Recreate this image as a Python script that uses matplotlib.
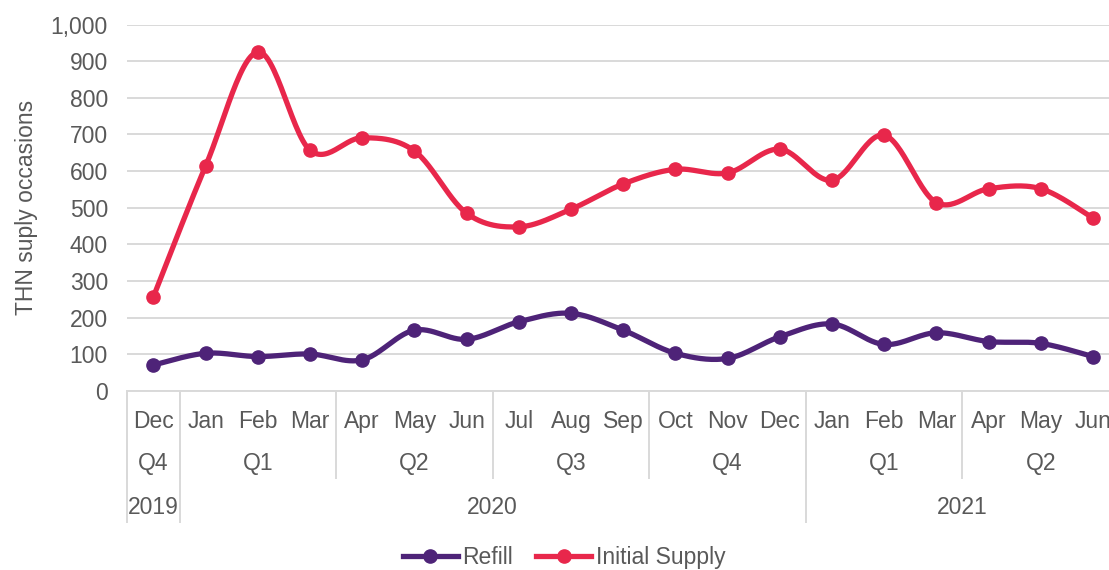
import numpy as np
import matplotlib.pyplot as plt
from matplotlib.lines import Line2D

plt.rcParams["font.family"] = ["Liberation Sans", "DejaVu Sans"]

# Data (Dec 2019 .. Jun 2021)
months = ["Dec", "Jan", "Feb", "Mar", "Apr", "May", "Jun", "Jul", "Aug", "Sep",
          "Oct", "Nov", "Dec", "Jan", "Feb", "Mar", "Apr", "May", "Jun"]
quarters = ["Q4", "Q1", "Q2", "Q3", "Q4", "Q1", "Q2"]
quarter_sizes = [1, 3, 3, 3, 3, 3, 3]
years = ["2019", "2020", "2021"]
year_sizes = [1, 12, 6]

refill = [71, 103, 94, 101, 85, 166, 141, 189, 212, 166,
          103, 89, 148, 183, 127, 159, 135, 130, 94]
initial_supply = [257, 614, 925, 657, 691, 655, 485, 448, 496, 565,
                  605, 595, 660, 575, 698, 514, 552, 552, 472]

RED = "#E8274B"
PURPLE = "#4E2378"
TEXT = "#595959"
GRID = "#D9D9D9"
FS = 16.5


def smooth(y, n=30):
    """Catmull-Rom style bezier smoothing, similar to Excel's smoothed line"""
    y = np.asarray(y, dtype=float)
    x = np.arange(len(y), dtype=float)
    pts = np.column_stack([x, y])
    out = []
    for i in range(len(pts) - 1):
        p0 = pts[max(i - 1, 0)]
        p1 = pts[i]
        p2 = pts[i + 1]
        p3 = pts[min(i + 2, len(pts) - 1)]
        c1 = p1 + (p2 - p0) / 6.0
        c2 = p2 - (p3 - p1) / 6.0
        t = np.linspace(0, 1, n)[:, None]
        seg = ((1 - t) ** 3) * p1 + 3 * ((1 - t) ** 2) * t * c1 \
            + 3 * (1 - t) * t ** 2 * c2 + t ** 3 * p2
        out.append(seg if i == 0 else seg[1:])
    seg = np.vstack(out)
    return seg[:, 0], seg[:, 1]


fig = plt.figure(figsize=(11.09, 5.70), dpi=100)
ax = fig.add_axes([0.1148, 0.314, 0.8943, 0.643])

x = np.arange(len(months))
for vals, col in [(refill, PURPLE), (initial_supply, RED)]:
    sx, sy = smooth(vals)
    ax.plot(sx, sy, color=col, lw=3.8, solid_capstyle="round", zorder=3)
    ax.plot(x, vals, "o", color=col, ms=9.5, zorder=4)

ax.set_xlim(-0.5, len(months) - 0.5)
ax.set_ylim(0, 1000)
ax.set_yticks(np.arange(0, 1001, 100))
ax.set_yticklabels([f"{v:,}" for v in range(0, 1001, 100)])
ax.set_xticks([])
ax.tick_params(axis="y", length=0, pad=14, labelsize=FS, labelcolor=TEXT)
ax.yaxis.grid(True, color=GRID, lw=1.4)
ax.set_axisbelow(True)
for s in ["top", "right", "left"]:
    ax.spines[s].set_visible(False)
ax.spines["bottom"].set_color(GRID)
ax.spines["bottom"].set_linewidth(1.4)
ax.set_ylabel("THN suply occasions", fontsize=FS, color=TEXT, labelpad=9)

# multi-level category axis
tr = ax.get_xaxis_transform()
y_month, y_q, y_year = -0.083, -0.198, -0.318
q_depth, y_depth = -0.237, -0.357

for i, m in enumerate(months):
    ax.text(i, y_month, m, transform=tr, ha="center", va="center",
            fontsize=FS, color=TEXT, clip_on=False)

start = 0
for q, n in zip(quarters, quarter_sizes):
    ax.text(start + (n - 1) / 2, y_q, q, transform=tr, ha="center",
            va="center", fontsize=FS, color=TEXT, clip_on=False)
    ax.plot([start - 0.5, start - 0.5], [0, q_depth], transform=tr,
            color=GRID, lw=1.4, clip_on=False)
    start += n

start = 0
for yr, n in zip(years, year_sizes):
    ax.text(start + (n - 1) / 2, y_year, yr, transform=tr, ha="center",
            va="center", fontsize=FS, color=TEXT, clip_on=False)
    ax.plot([start - 0.5, start - 0.5], [0, y_depth], transform=tr,
            color=GRID, lw=1.4, clip_on=False)
    start += n
ax.plot([start - 0.5, start - 0.5], [0, y_depth], transform=tr,
        color=GRID, lw=1.4, clip_on=False)

handles = [
    Line2D([], [], color=PURPLE, lw=3.8, marker="o", ms=9.5),
    Line2D([], [], color=RED, lw=3.8, marker="o", ms=9.5),
]
leg = fig.legend(handles, ["Refill", "Initial Supply"], loc="center",
                 bbox_to_anchor=(0.5086, 0.022), ncol=2, frameon=False,
                 fontsize=FS, handlelength=2.4, handletextpad=0.2,
                 columnspacing=1.0)
for t in leg.get_texts():
    t.set_color(TEXT)

fig.savefig("out.png", dpi=100)
